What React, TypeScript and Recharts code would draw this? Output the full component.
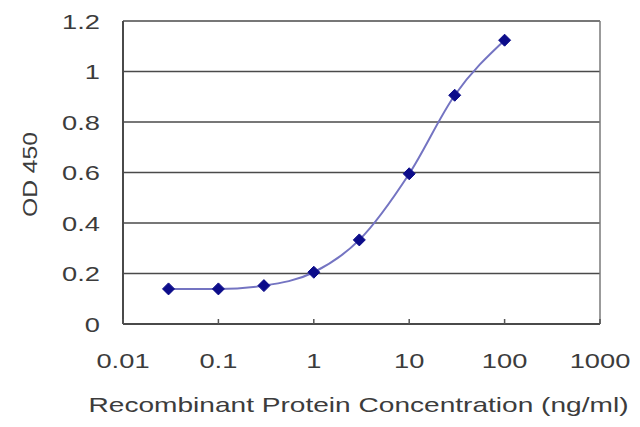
import { CartesianGrid, Line, LineChart, ReferenceLine, XAxis, YAxis } from "recharts";

const concentrations = [0.03, 0.1, 0.3, 1, 3, 10, 30, 100];
const odValues = [0.139, 0.139, 0.152, 0.205, 0.333, 0.595, 0.906, 1.124];
const xTicks = [0.01, 0.1, 1, 10, 100, 1000];
const yTicks = [0, 0.2, 0.4, 0.6, 0.8, 1, 1.2];

const data = concentrations.map((conc, i) => ({ conc, od: odValues[i] }));

const FONT = "'Liberation Sans', Arial, sans-serif";
const TEXT = "#3c3c3c";
const STRETCH = 1.3;

function XTick({ x, y, payload }: any) {
  return (
    <g>
      <line x1={x} x2={x} y1={y} y2={y - 5} stroke="#555" strokeWidth={1.5} />
      <text
        transform={`translate(${x},${y + 44}) scale(${STRETCH},1)`}
        textAnchor="middle"
        fontFamily={FONT}
        fontSize={21}
        fill={TEXT}
      >
        {String(payload.value)}
      </text>
    </g>
  );
}

function YTick({ x, y, payload }: any) {
  return (
    <text
      transform={`translate(${x - 23},${y + 7.5}) scale(${STRETCH},1)`}
      textAnchor="end"
      fontFamily={FONT}
      fontSize={21}
      fill={TEXT}
    >
      {String(payload.value)}
    </text>
  );
}

function Diamond({ cx, cy }: any) {
  if (cx == null || cy == null) return null;
  const r = 6;
  return (
    <path
      d={`M${cx},${cy - r}L${cx + r},${cy}L${cx},${cy + r}L${cx - r},${cy}Z`}
      fill="#0c0c8a"
      stroke="#0c0c8a"
      strokeWidth={1}
    />
  );
}

export default function App() {
  return (
    <div style={{ position: "absolute", left: 0, top: 0, background: "#fff" }}>
      <LineChart width={640} height={427} data={data} margin={{ top: 21, right: 40, bottom: 0, left: 0 }}>
        <CartesianGrid vertical={false} stroke="#4a4a4a" strokeWidth={1.6} />
        <XAxis
          dataKey="conc"
          type="number"
          scale="log"
          domain={[0.01, 1000]}
          ticks={xTicks}
          height={103}
          tickSize={0}
          tickMargin={0}
          tick={<XTick />}
          tickLine={false}
          axisLine={{ stroke: "#4a4a4a", strokeWidth: 2 }}
          interval={0}
          allowDataOverflow
          label={{
            content: ({ viewBox }: any) => (
              <text
                x={viewBox.x + viewBox.width / 2 - 3}
                y={viewBox.y + 88}
                textAnchor="middle"
                fontFamily={FONT}
                fontSize={21}
                fill={TEXT}
                textLength={540}
                lengthAdjust="spacingAndGlyphs"
              >
                Recombinant Protein Concentration (ng/ml)
              </text>
            ),
          }}
        />
        <YAxis
          type="number"
          domain={[0, 1.2]}
          ticks={yTicks}
          width={123}
          tickSize={0}
          tickMargin={0}
          tick={<YTick />}
          tickLine={false}
          axisLine={{ stroke: "#4a4a4a", strokeWidth: 2 }}
          interval={0}
          label={{
            content: ({ viewBox }: any) => (
              <text
                transform={`translate(${viewBox.x + 37},${viewBox.y + viewBox.height / 2 + 2}) rotate(-90)`}
                textAnchor="middle"
                fontFamily={FONT}
                fontSize={21}
                fill={TEXT}
                textLength={85}
                lengthAdjust="spacingAndGlyphs"
              >
                OD 450
              </text>
            ),
          }}
        />
        <ReferenceLine x={1000} stroke="#7a7a7a" strokeWidth={1.5} />
        <Line
          type="monotone"
          dataKey="od"
          stroke="#7474c2"
          strokeWidth={2}
          dot={<Diamond />}
          activeDot={false}
          isAnimationActive={false}
        />
      </LineChart>
    </div>
  );
}
